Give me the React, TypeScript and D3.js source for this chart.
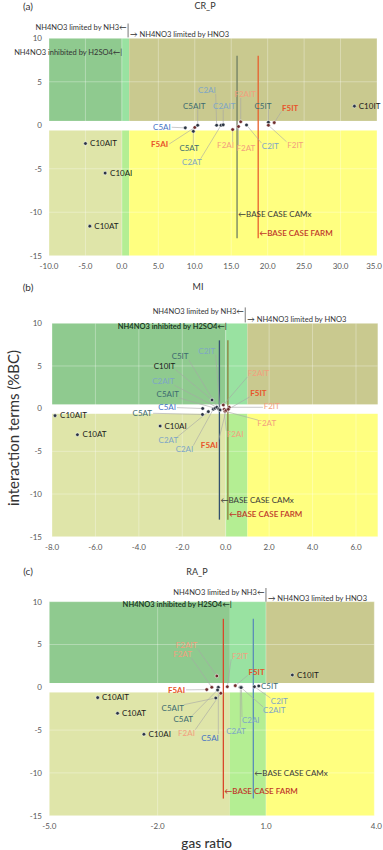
import React from "react";
import * as d3 from "d3";

// ---------- DATA ----------
const yTicks = [-15, -10, -5, 0, 5, 10];
const xTicksCR = [-10, -5, 0, 5, 10, 15, 20, 25, 30, 35];
const xTicksMI = [-8, -6, -4, -2, 0, 2, 4, 6];
const xTicksRA = [-5, -2, 1, 4];

// [name, gas ratio, interaction term %BC]
const pointsCR: [string, number, number][] = [
  ["C10AIT", -5.0, -2.1], ["C10AI", -2.3, -5.5], ["C10AT", -4.4, -11.6], ["C10IT", 31.9, 2.2],
  ["C5AI", 8.7, -0.3], ["F5AI", 10.0, -0.25], ["C5AIT", 10.4, 0.0], ["C5AT", 9.8, -0.7],
  ["C2AI", 13.0, 0.0], ["C2AT", 13.6, 0.0], ["C2AIT", 13.9, 0.05], ["F2AI", 15.2, -0.5],
  ["F2AT", 16.0, -0.15], ["F2AIT", 16.3, 0.4], ["C2IT", 17.1, 0.03], ["C5IT", 20.1, 0.35],
  ["F2IT", 20.1, 0.0], ["F5IT", 20.9, 0.3],
];
// [name, label x, label y, anchor]
const labelsCR: [string, number, number, string][] = [
  ["C10AIT", -4.37, -2.1, "start"], ["C10AI", -1.62, -5.5, "start"], ["C10AT", -3.78, -11.6, "start"], ["C10IT", 32.5, 2.2, "start"],
  ["C5AI", 6.7, -0.23, "end"], ["F5AI", 6.35, -2.16, "end"], ["C5AIT", 9.92, 2.23, "middle"], ["C5AT", 9.23, -2.65, "middle"],
  ["C2AI", 11.66, 4.04, "middle"], ["C2AT", 9.6, -4.27, "middle"], ["C2AIT", 14.04, 2.23, "middle"], ["F2AI", 14.22, -2.34, "middle"],
  ["F2AT", 17.02, -2.69, "middle"], ["F2AIT", 16.92, 3.54, "middle"], ["C2IT", 20.36, -2.46, "middle"], ["C5IT", 19.35, 2.23, "middle"],
  ["F2IT", 23.79, -2.31, "middle"], ["F5IT", 23.1, 2.0, "middle"],
];

const pointsMI: [string, number, number][] = [
  ["C10AIT", -7.86, -0.82], ["C10AT", -6.83, -3.05], ["C10AI", -3.02, -2.04], ["C10IT", -0.63, 1.02],
  ["C5AI", -1.06, 0.02], ["C5AT", -1.07, -0.68], ["C2AT", -0.8, -0.35], ["C2AI", -0.57, -0.06],
  ["C5AIT", -0.49, 0.05], ["C2AIT", -0.41, 0.16], ["C5IT", -0.32, -0.04], ["C2IT", -0.26, -0.15],
  ["F2AIT", -0.11, 0.43], ["F2AI", -0.07, -0.07], ["F2AT", -0.03, -0.3], ["F5AI", 0.02, -0.2],
  ["F2IT", 0.16, 0.16], ["F5IT", 0.12, -0.07],
];
const labelsMI: [string, number, number, string][] = [
  ["C10AIT", -7.63, -0.82, "start"], ["C10AT", -6.6, -3.05, "start"], ["C10AI", -2.82, -2.04, "start"], ["C10IT", -2.82, 5.0, "middle"],
  ["C5AI", -2.29, 0.12, "end"], ["C5AT", -3.39, -0.54, "end"], ["C2AT", -2.64, -3.75, "middle"], ["C2AI", -1.9, -4.76, "middle"],
  ["C5AIT", -2.67, 1.69, "middle"], ["C2AIT", -2.87, 3.16, "middle"], ["C5IT", -2.1, 6.09, "middle"], ["C2IT", -0.87, 6.76, "middle"],
  ["F2AIT", 1.51, 4.15, "middle"], ["F2AI", 0.43, -3.0, "middle"], ["F2AT", 1.89, -1.76, "middle"], ["F5AI", -0.75, -4.29, "middle"],
  ["F2IT", 2.12, 0.32, "middle"], ["F5IT", 1.51, 1.8, "middle"],
];

const pointsRA: [string, number, number][] = [
  ["C10IT", 1.73, 1.44], ["C10AIT", -3.66, -1.21], ["C10AT", -3.11, -3.04], ["C10AI", -2.38, -5.49],
  ["F2AIT", -0.36, 1.32], ["F5AI", -0.64, -0.27], ["F2AT", -0.5, 0.0], ["C5AI", -0.32, 0.0],
  ["C5AT", -0.34, -0.31], ["F2AI", -0.25, -0.7], ["C5AIT", -0.39, -1.25], ["F2IT", -0.07, 0.07],
  ["F5IT", 0.15, 0.19], ["C2AT", 0.29, 0.0], ["C2AI", 0.32, 0.0], ["C2AIT", 0.31, -0.03],
  ["C2IT", 0.68, 0.07], ["C5IT", 0.8, 0.16],
];
const labelsRA: [string, number, number, string][] = [
  ["C10IT", 1.86, 1.44, "start"], ["C10AIT", -3.54, -1.21, "start"], ["C10AT", -2.99, -3.04, "start"], ["C10AI", -2.25, -5.49, "start"],
  ["F2AIT", -1.2, 4.94, "middle"], ["F5AI", -1.24, -0.3, "end"], ["F2AT", -1.31, 3.86, "middle"], ["C5AI", -0.55, -5.89, "middle"],
  ["C5AT", -1.29, -3.74, "middle"], ["F2AI", -1.2, -5.37, "middle"], ["C5AIT", -1.58, -2.45, "middle"], ["F2IT", 0.28, 3.69, "middle"],
  ["F5IT", 0.74, 1.82, "middle"], ["C2AT", 0.17, -5.1, "middle"], ["C2AI", 0.58, -3.9, "middle"], ["C2AIT", 1.23, -2.73, "middle"],
  ["C2IT", 1.37, -1.68, "middle"], ["C5IT", 0.86, 0.15, "start"],
];

// base case lines: gas ratio per panel (CR_P, MI, RA_P)
const baseCamx = [15.8, -0.29, 0.65];
const baseFarm = [18.7, 0.1, -0.18];
const baseCamxLabelY = [-10.2, -10.7, -10.05];
const baseFarmLabelY = [-12.4, -12.4, -12.1];
const baseLineTop = 8;
const baseLineBottom = -13;

// regime annotations
const regimeBarX = [0.85, 0.9, 1.0];
const limitedY = [11.2, 11.36, 11.1];
const hno3Y = [10.5, 10.5, 10.4];
const inhibitedY = [8.4, 9.6, 9.7];

// background bands (interaction term ranges)
const bandTop = [0.5, 10];
const bandBottom = [-15, -0.6];
const regimeEdges = [0, 1];

// ---------- STYLE ----------
const FONT = "Lato, 'Open Sans', 'DejaVu Sans', sans-serif";

function labelColor(name: string) {
  if (name.startsWith("C10")) return "#1a1a1a";
  if (name === "C5AI") return "#4472c4";
  if (name.startsWith("C5")) return "#3d6b70";
  if (name.startsWith("C2")) return "#7ea6c6";
  if (name.startsWith("F2")) return "#f2a07e";
  return "#e8542a";
}
function dotColor(name: string) {
  return name.startsWith("F") ? "#6e2c2c" : "#2a3342";
}

const panels = [
  {
    tag: "(a)", name: "CR_P", left: 49, right: 377, top: 38.3, bottom: 255.7,
    xDomain: [-10, 35], xTicks: xTicksCR, points: pointsCR, labels: labelsCR,
    titleY: 6, nameX: 205, camxColor: "#6f7f63", farmColor: "#e8602f", inhBold: false,
  },
  {
    tag: "(b)", name: "MI", left: 52, right: 377.7, top: 323.3, bottom: 536.7,
    xDomain: [-8, 7], xTicks: xTicksMI, points: pointsMI, labels: labelsMI,
    titleY: 287, nameX: 198, camxColor: "#34506e", farmColor: "#8f7a3c", inhBold: true,
  },
  {
    tag: "(c)", name: "RA_P", left: 49.3, right: 374.3, top: 601.7, bottom: 815.7,
    xDomain: [-5, 4], xTicks: xTicksRA, points: pointsRA, labels: labelsRA,
    titleY: 571.7, nameX: 197, camxColor: "#5b8db8", farmColor: "#d9472b", inhBold: true,
  },
];

function Panel({ p, i }: { p: any; i: number }) {
  const x = d3.scaleLinear().domain(p.xDomain).range([p.left, p.right]);
  const y = d3.scaleLinear().domain([-15, 10]).range([p.bottom, p.top]);
  const xs = [p.xDomain[0], regimeEdges[0], regimeEdges[1], p.xDomain[1]];
  const topCols = ["#8fca8f", "#99e2a1", "#c9c98f"];
  const botCols = ["#dfe5a9", "#b4ee93", "#ffff80"];
  const fs = 8;
  const labelMap = new Map<string, any>(p.labels.map((l: any) => [l[0], l]));

  return (
    <g>
      <text x={28} y={p.titleY} dy="0.35em" fontSize={10} fill="#333" textAnchor="middle">{p.tag}</text>
      <text x={p.nameX} y={p.titleY} dy="0.35em" fontSize={9} fill="#333" textAnchor="middle">{p.name}</text>
      {/* background bands */}
      {[0, 1, 2].map((k) => (
        <g key={k}>
          <rect x={x(xs[k])} width={x(xs[k + 1]) - x(xs[k])} y={y(bandTop[1])} height={y(bandTop[0]) - y(bandTop[1])} fill={topCols[k]} />
          <rect x={x(xs[k])} width={x(xs[k + 1]) - x(xs[k])} y={y(bandBottom[1])} height={y(bandBottom[0]) - y(bandBottom[1])} fill={botCols[k]} />
        </g>
      ))}
      {/* grid */}
      {p.xTicks.map((t: number) => (
        <line key={"gx" + t} x1={x(t)} x2={x(t)} y1={p.top} y2={p.bottom} stroke="#fff" strokeOpacity={0.45} strokeWidth={0.7} />
      ))}
      {yTicks.map((t) => (
        <line key={"gy" + t} x1={p.left} x2={p.right} y1={y(t)} y2={y(t)} stroke="#fff" strokeOpacity={0.45} strokeWidth={0.7} />
      ))}
      {/* ticks */}
      {yTicks.map((t) => (
        <text key={"ty" + t} x={42} y={y(t)} dy="0.35em" textAnchor="end" fontSize={fs} fill="#595959">{t}</text>
      ))}
      {p.xTicks.map((t: number) => {
        const tx = x(t);
        const edge = tx + 8 > 382;
        return (
          <text key={"tx" + t} x={edge ? 382 : tx} y={p.bottom + 10} dy="0.35em" textAnchor={edge ? "end" : "middle"} fontSize={fs} fill="#595959">{t.toFixed(1)}</text>
        );
      })}
      {/* regime annotations */}
      <text x={x(regimeBarX[i]) - 1.5} y={y(limitedY[i])} dy="0.35em" textAnchor="end" fontSize={7.5} fill="#333">NH4NO3 limited by NH3←</text>
      <line x1={x(regimeBarX[i])} x2={x(regimeBarX[i])} y1={y(limitedY[i] + 0.5)} y2={y(hno3Y[i] - 0.4)} stroke="#555" strokeWidth={0.8} />
      <text x={x(regimeBarX[i]) + 2} y={y(hno3Y[i])} dy="0.35em" textAnchor="start" fontSize={7.5} fill="#333">→ NH4NO3 limited by HNO3</text>
      <text x={x(0.05)} y={y(inhibitedY[i])} dy="0.35em" textAnchor="end" fontSize={7.5} fill={p.inhBold ? "#1d3d26" : "#333"} fontWeight={p.inhBold ? 700 : 400}>NH4NO3 inhibited by H2SO4←|</text>
      {/* base case lines */}
      <line x1={x(baseCamx[i])} x2={x(baseCamx[i])} y1={y(baseLineTop)} y2={y(baseLineBottom)} stroke={p.camxColor} strokeWidth={1.3} />
      <line x1={x(baseFarm[i])} x2={x(baseFarm[i])} y1={y(baseLineTop)} y2={y(baseLineBottom)} stroke={p.farmColor} strokeWidth={1.3} />
      <text x={x(baseCamx[i]) + 1} y={y(baseCamxLabelY[i])} dy="0.35em" fontSize={fs} fill="#3a3a3a">←BASE CASE CAMx</text>
      <text x={x(baseFarm[i]) + 1} y={y(baseFarmLabelY[i])} dy="0.35em" fontSize={fs} fill="#c0392b" fontWeight={600}>←BASE CASE FARM</text>
      {/* leaders */}
      {p.points.map((pt: any) => {
        const l = labelMap.get(pt[0]);
        if (!l || l[3] === "start") return null;
        const px = x(pt[1]), py = y(pt[2]);
        const lx = x(l[1]), ly = y(l[2]);
        const w = pt[0].length * fs * 0.55;
        const x0 = l[3] === "end" ? lx - w : lx - w / 2;
        const x1 = x0 + w;
        const y0 = ly - fs * 0.45, y1 = ly + fs * 0.45;
        const nx = Math.max(x0, Math.min(px, x1));
        const ny = Math.max(y0, Math.min(py, y1));
        const sx = l[3] === "end" ? x1 + 1 : nx;
        const sy = l[3] === "end" ? ly : ny;
        return <line key={"ld" + pt[0]} x1={sx} y1={sy} x2={px} y2={py} stroke="#a6a6a6" strokeWidth={0.6} />;
      })}
      {/* points */}
      {p.points.map((pt: any) => (
        <circle key={"pt" + pt[0]} cx={x(pt[1])} cy={y(pt[2])} r={1.8} fill={dotColor(pt[0])} stroke="#fff" strokeWidth={0.5} />
      ))}
      {/* labels */}
      {p.labels.map((l: any) => (
        <text key={"lb" + l[0]} x={x(l[1])} y={y(l[2])} dy="0.35em" textAnchor={l[3]} fontSize={fs}
          fill={labelColor(l[0])} fontWeight={l[0].startsWith("F5") ? 700 : 400}>{l[0]}</text>
      ))}
    </g>
  );
}

export default function App() {
  return (
    <div style={{ position: "absolute", left: 0, top: 0 }}>
      <svg width={383} height={850} style={{ display: "block", fontFamily: FONT }}>
        <rect width={383} height={850} fill="#fff" />
        {panels.map((p, i) => <Panel key={p.tag} p={p} i={i} />)}
        <text x={206.7} y={843} dy="0.35em" textAnchor="middle" fontSize={13.5} fill="#333" fontWeight={500}>gas ratio</text>
        <text transform="translate(14,428) rotate(-90)" dy="0.35em" textAnchor="middle" fontSize={15} fill="#333">interaction terms (%BC)</text>
      </svg>
    </div>
  );
}
